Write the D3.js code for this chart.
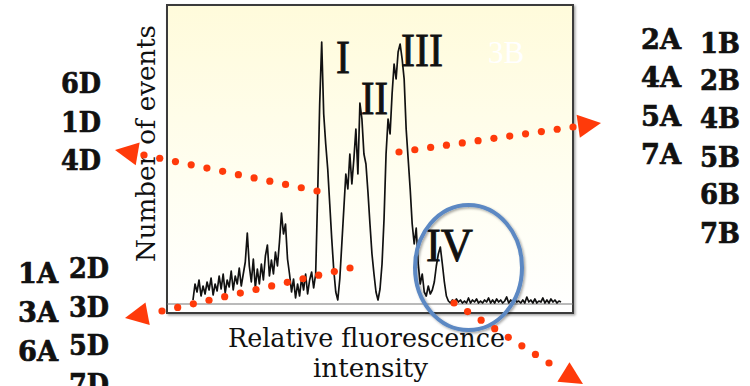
<!DOCTYPE html>
<html>
<head>
<meta charset="utf-8">
<script src="https://cdn.jsdelivr.net/npm/d3@7"></script>
<style>
  html, body { margin: 0; padding: 0; background: #ffffff; }
  svg { display: block; }
</style>
</head>
<body>
<svg id="chart" width="750" height="386"></svg>
<script>
// Fluorescence histogram: number of events per channel (185 channels)
const channelCounts = [
  // low-intensity shoulder
  4, 20, 12, 24, 8, 18, 10, 22, 14, 26, 9, 20, 13, 28, 15, 30, 11, 24, 17, 33, 14, 28, 20, 36, 18,
  30, 42, 71, 38, 22, 45, 16, 35, 20, 40, 24, 48, 59, 28, 44, 30, 52,
  38, 62, 91, 70, 80, 45, 30, 12, 25, 6, 20, 8, 26, 14, 30, 10, 24, 32, 16, 30,
  // peak I
  110, 200, 262, 190, 160, 135, 100, 65, 34, 12, 4,
  // peak II
  25, 60, 95, 130, 115, 150, 120, 145, 175, 130, 201, 185, 150, 140, 112, 80, 50, 30, 12, 4,
  // peak III
  15, 40, 85, 150, 185, 170, 210, 240, 225, 252, 260, 245, 225, 175, 145, 115, 80, 60, 76, 40, 20,
  // peak IV
  30, 12, 8, 18, 10, 14, 22, 38, 50, 57, 40, 22, 8, 3,
  // high-intensity tail
  1, 4, 1, 5, 2, 4, 1, 3, 1, 6, 1, 4, 2, 5, 1, 3, 1, 4, 2, 6, 1, 4, 1, 5, 2, 4, 1, 3, 7,
  1, 4, 1, 5, 2, 3, 1, 4, 1, 7, 2, 4, 1, 5, 1, 3, 2, 6, 1, 4, 1, 5, 2, 4, 1, 3, 2
];

const peakLabels = ["I", "II", "III", "IV"];
const hiddenLabel = "3B";
const yAxisTitle = "Number of events";
const xAxisTitle = ["Relative fluorescence", "intensity"];

// Sample groups sorted by the population they fall into
const leftUpperGroups = ["6D", "1D", "4D"];
const leftLowerGroupsA = ["1A", "3A", "6A"];
const leftLowerGroupsD = ["2D", "3D", "5D", "7D"];
const rightGroupsA = ["2A", "4A", "5A", "7A"];
const rightGroupsB = ["1B", "2B", "4B", "5B", "6B", "7B"];

const svg = d3.select("#chart");
const frame = { left: 167, top: 5, right: 573, bottom: 313 };

const x = d3.scaleLinear().domain([0, channelCounts.length - 1]).range([193, 561]);
const y = d3.scaleLinear().domain([0, 299]).range([304, 5]);

const defs = svg.append("defs");
const grad = defs.append("linearGradient")
  .attr("id", "panelFill").attr("x1", 0).attr("y1", 0).attr("x2", 0).attr("y2", 1);
grad.append("stop").attr("offset", "0%").attr("stop-color", "#fffbdb");
grad.append("stop").attr("offset", "55%").attr("stop-color", "#fffef0");
grad.append("stop").attr("offset", "100%").attr("stop-color", "#ffffff");

const shadow = defs.append("filter").attr("id", "soft").attr("x", "-10%").attr("y", "-10%")
  .attr("width", "120%").attr("height", "120%");
shadow.append("feDropShadow").attr("dx", 1.5).attr("dy", 1.5).attr("stdDeviation", 1.2)
  .attr("flood-color", "#000").attr("flood-opacity", 0.35);

// plot panel
svg.append("rect")
  .attr("x", frame.left).attr("y", frame.top)
  .attr("width", frame.right - frame.left).attr("height", frame.bottom - frame.top)
  .attr("fill", "url(#panelFill)")
  .attr("stroke", "#3a3a3a").attr("stroke-width", 2)
  .attr("filter", "url(#soft)");

// baseline
svg.append("line")
  .attr("x1", frame.left).attr("x2", frame.right)
  .attr("y1", y(0)).attr("y2", y(0))
  .attr("stroke", "#777").attr("stroke-width", 1.2);

// hidden sample tag
svg.append("text")
  .attr("x", 488).attr("y", 63)
  .attr("font-family", "Liberation Serif, serif").attr("font-size", 31)
  .attr("fill", "#ffffff")
  .text(hiddenLabel);

// histogram trace
const line = d3.line().x((d, i) => x(i)).y(d => y(d));
svg.append("path")
  .datum(channelCounts)
  .attr("d", line)
  .attr("fill", "none")
  .attr("stroke", "#111")
  .attr("stroke-width", 1.7)
  .attr("stroke-linejoin", "round");

// peak labels
const peakPos = [
  { x: 336, y: 73, len: 14 },
  { x: 361, y: 114, len: 27 },
  { x: 401, y: 66, len: 42 },
  { x: 426, y: 261, len: 47 }
];
svg.selectAll("text.peak")
  .data(peakLabels)
  .join("text")
  .attr("class", "peak")
  .attr("x", (d, i) => peakPos[i].x)
  .attr("y", (d, i) => peakPos[i].y)
  .attr("textLength", (d, i) => peakPos[i].len)
  .attr("lengthAdjust", "spacingAndGlyphs")
  .attr("font-family", "Liberation Serif, serif")
  .attr("font-size", 46)
  .attr("fill", "#111")
  .attr("stroke", "#111").attr("stroke-width", 0.9)
  .text(d => d);

// population IV circled
svg.append("ellipse")
  .attr("cx", 468.5).attr("cy", 267.5).attr("rx", 53.5).attr("ry", 62.5)
  .attr("fill", "none").attr("stroke", "#5b88c3").attr("stroke-width", 4)
  .attr("filter", "url(#soft)");

// axis titles
svg.append("text")
  .attr("transform", "translate(155,143.5) rotate(-90)")
  .attr("text-anchor", "middle")
  .attr("font-family", "DejaVu Serif, serif").attr("font-size", 26)
  .attr("textLength", 237).attr("lengthAdjust", "spacingAndGlyphs")
  .attr("fill", "#111")
  .text(yAxisTitle);

svg.append("text")
  .attr("x", 366.5).attr("y", 347).attr("text-anchor", "middle")
  .attr("font-family", "DejaVu Serif, serif").attr("font-size", 26)
  .attr("textLength", 277).attr("lengthAdjust", "spacingAndGlyphs")
  .attr("fill", "#111")
  .text(xAxisTitle[0]);
svg.append("text")
  .attr("x", 370.5).attr("y", 377).attr("text-anchor", "middle")
  .attr("font-family", "DejaVu Serif, serif").attr("font-size", 26)
  .attr("textLength", 115).attr("lengthAdjust", "spacingAndGlyphs")
  .attr("fill", "#111")
  .text(xAxisTitle[1]);

// dotted red arrows leading from the populations to the sample groups
const arrows = [
  { from: [317, 191], to: [144, 155], dots: 12, tip: [115, 150] },
  { from: [399, 152], to: [573, 127], dots: 12, tip: [601, 123] },
  { from: [350, 268], to: [162, 311], dots: 13, tip: [125, 318] },
  { from: [454, 303], to: [549, 363], dots: 8, tip: [583, 384] }
];
const red = "#ff3a0a";
arrows.forEach(a => {
  const pts = d3.range(a.dots).map(k => {
    const t = k / (a.dots - 1);
    return [a.from[0] + (a.to[0] - a.from[0]) * t, a.from[1] + (a.to[1] - a.from[1]) * t];
  });
  svg.append("g").selectAll("circle")
    .data(pts).join("circle")
    .attr("cx", d => d[0]).attr("cy", d => d[1]).attr("r", 3.6)
    .attr("fill", red);
  const dx = a.tip[0] - a.to[0], dy = a.tip[1] - a.to[1];
  const len = Math.hypot(dx, dy);
  const ux = dx / len, uy = dy / len;
  const L = 23, W = 11.5;
  const bx = a.tip[0] - ux * L, by = a.tip[1] - uy * L;
  const tri = [
    a.tip,
    [bx - uy * W, by + ux * W],
    [bx + uy * W, by - ux * W]
  ];
  svg.append("path")
    .attr("d", "M" + tri.map(p => p.join(",")).join("L") + "Z")
    .attr("fill", red);
});

// sample group labels
function groupColumn(labels, xPos, baselines) {
  svg.append("g").selectAll("text")
    .data(labels).join("text")
    .attr("x", xPos)
    .attr("y", (d, i) => baselines[i])
    .attr("font-family", "DejaVu Serif, serif")
    .attr("font-weight", "bold")
    .attr("font-size", 28)
    .attr("textLength", 40).attr("lengthAdjust", "spacingAndGlyphs")
    .attr("fill", "#111")
    .attr("stroke", "#111").attr("stroke-width", 0.7)
    .text(d => d);
}
groupColumn(leftUpperGroups, 61, [93, 132, 170]);
groupColumn(leftLowerGroupsA, 18, [283, 322, 361]);
groupColumn(leftLowerGroupsD, 69, [278, 317, 355, 394]);
groupColumn(rightGroupsA, 641, [49, 87, 126, 164]);
groupColumn(rightGroupsB, 700, [53, 90, 128, 167, 204, 243]);
</script>
</body>
</html>
